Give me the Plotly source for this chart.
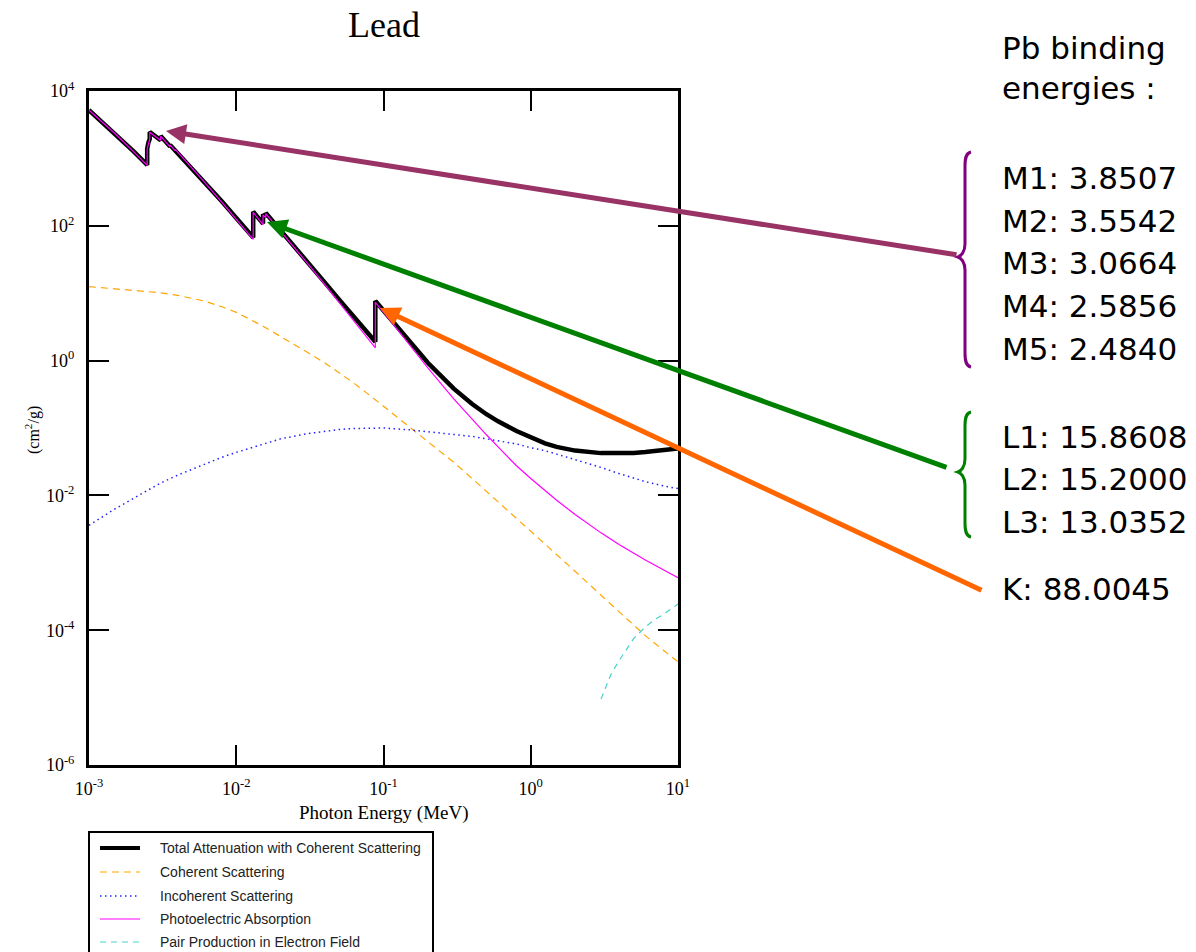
import plotly.graph_objects as go

# ---- Lead (Pb) photon cross sections, cm^2/g ----
# Energies in MeV; absorption edges appear as repeated energies.
energy = [1.0e-3, 1.5e-3, 2.0e-3, 2.484e-3, 2.484e-3, 2.534e-3, 2.5856e-3, 2.5856e-3,
          3.0e-3, 3.0664e-3, 3.0664e-3, 3.301e-3, 3.5542e-3, 3.5542e-3, 3.699e-3,
          3.8507e-3, 3.8507e-3, 4.0e-3, 5.0e-3, 6.0e-3, 8.0e-3, 1.0e-2,
          1.30352e-2, 1.30352e-2, 1.5e-2, 1.52e-2, 1.52e-2, 1.5527e-2, 1.58608e-2, 1.58608e-2,
          2.0e-2, 3.0e-2, 4.0e-2, 5.0e-2, 6.0e-2, 8.0e-2, 8.80045e-2, 8.80045e-2,
          0.1, 0.15, 0.2, 0.3, 0.4, 0.5, 0.6, 0.8, 1.0, 1.25, 1.5, 2.0, 3.0, 4.0,
          5.0, 6.0, 8.0, 10.0]
total = [5210, 2356, 1285, 800.6, 1397, 1726, 1944, 2458,
         1965, 1857, 2146, 1796, 1496, 1585, 1442,
         1311, 1368, 1251, 730.4, 467.2, 228.7, 130.6,
         67.01, 162.1, 111.6, 107.8, 148.5, 141.6, 134.4, 154.8,
         86.36, 30.32, 14.36, 8.041, 5.021, 2.419, 1.910, 7.683,
         5.549, 1.92, 0.93, 0.383, 0.227, 0.160, 0.1257, 0.0901, 0.0718, 0.0593, 0.0525,
         0.0462, 0.0424, 0.0420, 0.0427, 0.0439, 0.0468, 0.0497]
photoelectric = [5197, 2344, 1274, 790, 1387, 1716, 1934, 2448,
                 1955, 1847, 2136, 1786, 1486, 1575, 1432,
                 1302, 1359, 1242, 722, 459.5, 222.4, 125.4,
                 63.1, 158.2, 108.2, 104.5, 145.2, 138.4, 131.3, 151.7,
                 84.0, 28.9, 13.35, 7.29, 4.42, 2.01, 1.55, 7.32,
                 5.24, 1.72, 0.78, 0.271, 0.134, 0.0793, 0.0526, 0.0275, 0.0178, 0.0118, 0.0085,
                 0.0052, 0.00278, 0.00185, 0.00138, 0.00110, 0.00078, 0.00060]

energy_scatter = [1e-3, 1.5e-3, 2e-3, 3e-3, 4e-3, 5e-3, 6e-3, 8e-3, 1e-2, 1.5e-2, 2e-2,
                  3e-2, 4e-2, 5e-2, 6e-2, 8e-2, 0.1, 0.15, 0.2, 0.3, 0.4, 0.5, 0.6, 0.8,
                  1.0, 1.25, 1.5, 2.0, 3.0, 4.0, 5.0, 6.0, 8.0, 10.0]
coherent = [12.5, 11.7, 11.1, 10.2, 9.3, 8.5, 7.7, 6.3, 5.2, 3.3, 2.3,
            1.35, 0.92, 0.66, 0.50, 0.31, 0.21, 0.105, 0.064, 0.031, 0.0178, 0.0115, 0.0081, 0.0046,
            0.00296, 0.0019, 0.00132, 0.00075, 0.00033, 0.000187, 0.00012, 0.000083, 0.000050, 0.000034]
incoherent = [0.0036, 0.0063, 0.0090, 0.0149, 0.0200, 0.0245, 0.0285, 0.0368, 0.0435, 0.0570, 0.0690,
              0.0820, 0.0900, 0.0950, 0.0980, 0.1000, 0.1000, 0.094, 0.088, 0.081, 0.075, 0.069, 0.065, 0.058,
              0.051, 0.046, 0.041, 0.034, 0.026, 0.021, 0.018, 0.016, 0.0138, 0.0126]

energy_pair = [3.0, 3.5, 4.0, 5.0, 6.0, 7.0, 8.0, 10.0]
pair_electron = [9.5e-6, 2.2e-5, 3.6e-5, 7.5e-5, 1.12e-4, 1.45e-4, 1.72e-4, 2.45e-4]

# Axis ticks
x_tick_vals = [1e-3, 1e-2, 1e-1, 1e0, 1e1]
x_tick_text = ["10<sup>-3</sup>", "10<sup>-2</sup>", "10<sup>-1</sup>", "10<sup>0</sup>", "10<sup>1</sup>"]
y_tick_vals = [1e-6, 1e-4, 1e-2, 1e0, 1e2, 1e4]
y_tick_text = ["10<sup>-6</sup>", "10<sup>-4</sup>", "10<sup>-2</sup>", "10<sup>0</sup>", "10<sup>2</sup>", "10<sup>4</sup>"]

# Binding energies (keV) listed beside the chart
shell_m = ["M1: 3.8507", "M2: 3.5542", "M3: 3.0664", "M4: 2.5856", "M5: 2.4840"]
shell_l = ["L1: 15.8608", "L2: 15.2000", "L3: 13.0352"]
shell_k = ["K: 88.0045"]

# ---- page geometry (pixels) ----
W, H = 1196, 952
PL, PR, PT, PB = 89, 678, 91, 765   # plot area edges


def px(x):
    return (x - PL) / (PR - PL)


def py(y):
    return (PB - y) / (PB - PT)


SERIF = "Liberation Serif"
SANS = "Liberation Sans"

series = [
    dict(x=energy, y=total, name="Total Attenuation with Coherent Scattering",
         line=dict(color="black", width=4.5)),
    dict(x=energy_scatter, y=coherent, name="Coherent Scattering",
         line=dict(color="#FFA500", width=1.2, dash="7px,5px")),
    dict(x=energy_scatter, y=incoherent, name="Incoherent Scattering",
         line=dict(color="#2020FF", width=1.5, dash="1.5px,3.5px")),
    dict(x=energy, y=photoelectric, name="Photoelectric Absorption",
         line=dict(color="#FF00FF", width=1.2)),
    dict(x=energy_pair, y=pair_electron, name="Pair Production in Electron Field",
         line=dict(color="#48D1CC", width=1.2, dash="6px,5px")),
]

fig = go.Figure()
for s in series:
    fig.add_trace(go.Scatter(x=s["x"], y=s["y"], mode="lines", name=s["name"], line=s["line"]))

axis_common = dict(
    type="log", showgrid=False, zeroline=False,
    showline=True, linecolor="black", linewidth=3, mirror="ticks",
    ticks="inside", ticklen=20, tickwidth=1.5, tickcolor="black",
    tickmode="array", tickfont=dict(family=SERIF, size=18, color="black"),
)
fig.update_xaxes(range=[-3, 1], tickvals=x_tick_vals, ticktext=x_tick_text,
                 ticklabelstandoff=5, **axis_common)
fig.update_yaxes(range=[-6, 4], tickvals=y_tick_vals, ticktext=y_tick_text,
                 ticklabelstandoff=8, **axis_common)

annotations = [
    dict(text="Lead", x=0.5, y=py(25), font=dict(family=SERIF, size=36, color="black")),
    dict(text="Photon Energy (MeV)", x=0.5, y=py(813), font=dict(family=SERIF, size=19, color="black")),
    dict(text="(cm<sup>2</sup>/g)", x=px(32), y=py(430), textangle=-90,
         font=dict(family=SERIF, size=16, color="black")),
]

# Right-hand text column
text_x = px(1000)
rows = [("Pb binding", 48), ("energies :", 88)]
rows += list(zip(shell_m, [178, 221, 263, 306, 349]))
rows += list(zip(shell_l, [437, 479, 522]))
rows += list(zip(shell_k, [589]))
for label, yy in rows:
    annotations.append(dict(text=label, x=text_x, y=py(yy), xanchor="left",
                            font=dict(family="DejaVu Sans", size=31, color="black")))

# Arrows from the shell groups to the edges on the curve
arrows = [
    ((166, 131), (958, 255), "#993366"),
    ((267, 222), (948, 468), "#008000"),
    ((380, 308), (983, 591), "#FF6600"),
]
for (hx, hy), (tx, ty), col in arrows:
    annotations.append(dict(text="", x=px(hx), y=py(hy), ax=tx - hx, ay=ty - hy,
                            showarrow=True, arrowhead=2, arrowsize=0.8, arrowwidth=5,
                            arrowcolor=col, standoff=0))

# Legend panel below the axes
LEG_L, LEG_R, LEG_T = 89, 433, 832
leg_rows = [848, 872, 896, 919, 942]
shapes = [dict(type="rect", xref="paper", yref="paper",
               x0=px(LEG_L), x1=px(LEG_R), y0=py(LEG_T), y1=py(H + 20),
               line=dict(color="black", width=2), fillcolor="rgba(0,0,0,0)")]
for s, yy in zip(series, leg_rows):
    shapes.append(dict(type="line", xref="paper", yref="paper",
                       x0=px(100), x1=px(140), y0=py(yy), y1=py(yy),
                       line=dict(color=s["line"]["color"], width=min(s["line"]["width"], 4),
                                 dash=s["line"].get("dash", "solid"))))
    annotations.append(dict(text=s["name"], x=px(158), y=py(yy), xanchor="left",
                            font=dict(family=SANS, size=14, color="#222222")))

for a in annotations:
    a.setdefault("xref", "paper")
    a.setdefault("yref", "paper")
    a.setdefault("showarrow", False)
    a.setdefault("xanchor", "center")
    a.setdefault("yanchor", "middle")


def brace(x_tip, x_stem, x_cusp, y_top, y_mid, y_bot):
    pts = [
        ("M", [(x_tip, y_top)]),
        ("C", [(x_stem + 1, y_top + 1), (x_stem, y_top + 6), (x_stem, y_top + 14)]),
        ("L", [(x_stem, y_mid - 13)]),
        ("C", [(x_stem, y_mid - 5), (x_cusp + 3, y_mid - 1), (x_cusp, y_mid)]),
        ("C", [(x_cusp + 3, y_mid + 1), (x_stem, y_mid + 5), (x_stem, y_mid + 13)]),
        ("L", [(x_stem, y_bot - 14)]),
        ("C", [(x_stem, y_bot - 6), (x_stem + 1, y_bot - 1), (x_tip, y_bot)]),
    ]
    out = []
    for cmd, coords in pts:
        out.append(cmd + " ".join(f"{px(a):.5f},{py(b):.5f}" for a, b in coords))
    return " ".join(out)


shapes += [
    dict(type="path", xref="paper", yref="paper",
         path=brace(971, 965, 958, 152, 257, 367), line=dict(color="#800080", width=3)),
    dict(type="path", xref="paper", yref="paper",
         path=brace(971, 965, 958, 412, 472, 537), line=dict(color="#008000", width=3)),
]

fig.update_layout(
    width=W, height=H, autosize=False,
    margin=dict(l=PL, r=W - PR, t=PT, b=H - PB, pad=0),
    paper_bgcolor="white", plot_bgcolor="white",
    annotations=annotations, shapes=shapes,
    showlegend=False,
)

fig.write_html("out.html")
